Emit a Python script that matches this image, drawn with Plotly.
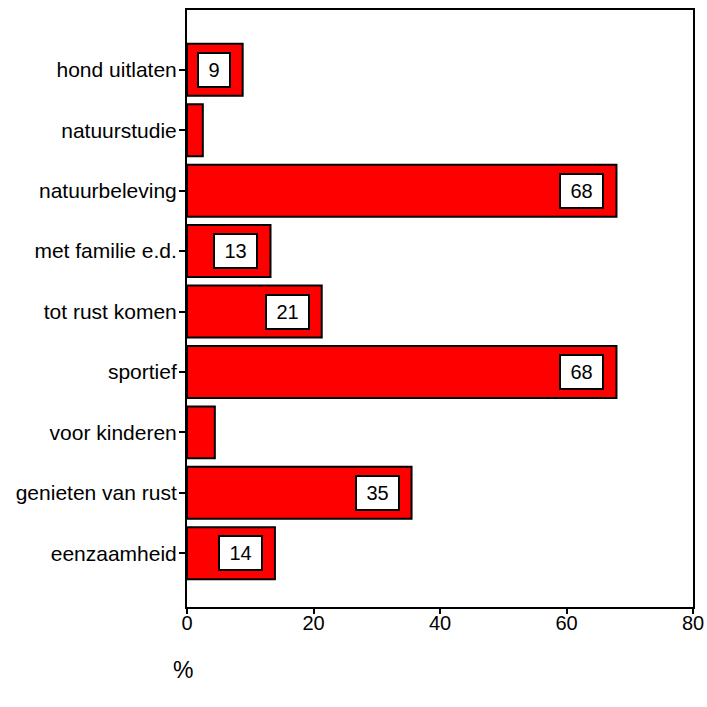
import plotly.graph_objects as go

categories = ["eenzaamheid", "genieten van rust", "voor kinderen", "sportief",
              "tot rust komen", "met familie e.d.", "natuurbeleving",
              "natuurstudie", "hond uitlaten"]
values = [13.9, 35.5, 4.4, 67.9, 21.3, 13.2, 67.9, 2.5, 8.8]
labels = ["14", "35", "", "68", "21", "13", "68", "", "9"]
x_ticks = [0, 20, 40, 60, 80]

FONT = "Liberation Sans, Arial, sans-serif"

# plot area in page coords: x 187..693, y 10..607 (body margin removed below)
W, H = 707, 707
L, R, T, B = 187, W - 693, 10, H - 607

fig = go.Figure()
fig.add_trace(go.Bar(
    y=categories, x=values, orientation="h",
    marker=dict(color="#ff0000", line=dict(color="black", width=2)),
    width=0.86, hoverinfo="skip",
))

for c, v, t in zip(categories, values, labels):
    if not t:
        continue
    fig.add_annotation(
        x=v, y=c, xref="x", yref="y", text=t, showarrow=False,
        xanchor="right", xshift=-12,
        font=dict(family=FONT, size=20, color="black"),
        bgcolor="white", bordercolor="black", borderwidth=2, borderpad=0,
        width=41 if len(t) > 1 else 30, height=32,
    )

fig.add_annotation(
    xref="paper", yref="paper",
    x=(183 - 187) / (693 - 187), y=-(670 - 607) / (607 - 10),
    xanchor="center", yanchor="middle",
    text="%", showarrow=False,
    font=dict(family=FONT, size=23, color="black"),
)

fig.update_layout(
    width=W, height=H,
    margin=dict(l=L, r=R, t=T, b=B, autoexpand=False),
    plot_bgcolor="white", paper_bgcolor="white",
    showlegend=False,
    font=dict(family=FONT, size=20, color="black"),
)
fig.update_xaxes(
    range=[0, 80], tickvals=x_ticks, ticks="outside", ticklen=5, tickwidth=1.5,
    tickcolor="black", showgrid=False, zeroline=False,
    showline=True, linecolor="black", linewidth=2, mirror=True,
    tickfont=dict(family=FONT, size=20), ticklabelstandoff=-8,
    ticklabeloverflow="allow", automargin=False,
)
fig.update_yaxes(
    categoryorder="array", categoryarray=categories,
    range=[-0.89, 8.99], ticks="outside", ticklen=6, tickwidth=1.5,
    tickcolor="black", showgrid=False, zeroline=False,
    showline=True, linecolor="black", linewidth=2, mirror=True,
    tickfont=dict(family=FONT, size=21), ticklabelstandoff=-2,
    automargin=False,
)

fig.write_html("out.html", config={"displayModeBar": False},
               post_script="document.body.style.margin='0px';")
